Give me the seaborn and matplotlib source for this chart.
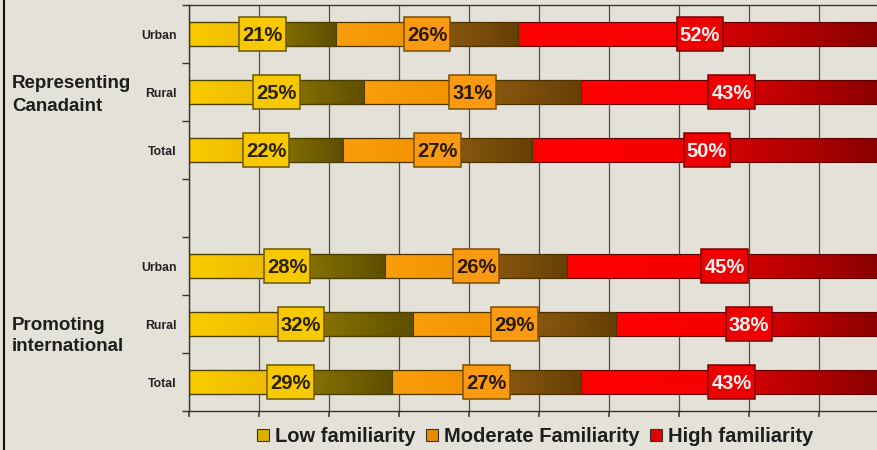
import numpy as np
import pandas as pd
import matplotlib
matplotlib.use("Agg")
import matplotlib.pyplot as plt
from matplotlib.colors import LinearSegmentedColormap
from matplotlib.patches import Patch, Rectangle
from matplotlib.lines import Line2D
from matplotlib.ticker import MultipleLocator
import seaborn as sns

# Data
groups = ["Representing\nCanadaint", "Promoting\ninternational"]
categories = ["Urban", "Rural", "Total"]
series = ["Low familiarity", "Moderate Familiarity", "High familiarity"]
low = [21, 25, 22, 28, 32, 29]
moderate = [26, 31, 27, 26, 29, 27]
high = [52, 43, 50, 45, 38, 43]

row_keys = ["r0", "r1", "r2", "gap", "r3", "r4", "r5"]
bar_rows = [k for k in row_keys if k != "gap"]
tick_labels = categories + [""] + categories

df = pd.DataFrame({"row": bar_rows, "low": low, "moderate": moderate, "high": high})
df["c_low"] = df["low"]
df["c_mod"] = df["low"] + df["moderate"]
df["c_high"] = df["c_mod"] + df["high"]

# Styling
bg = "#E4E1D8"
ramps = {
    "low": ["#FACB00", "#EDB900", "#8E7700", "#5E4F00"],
    "moderate": ["#FA9E0C", "#F29100", "#8E5C10", "#663F06"],
    "high": ["#FF0000", "#F60000", "#D60000", "#880000"],
}
box_fc = {"low": "#F8C800", "moderate": "#F99A12", "high": "#EE0000"}
box_ec = {"low": "#6A5800", "moderate": "#7A5000", "high": "#7A0000"}
txt_c = {"low": "#2A2200", "moderate": "#2A1A00", "high": "#FFF0F0"}
edge_c = {"low": "#4A3E00", "moderate": "#4E3300", "high": "#600000"}
legend_c = {"low": "#D8B000", "moderate": "#E88A00", "high": "#E00000"}

sns.set_theme(style="white")
plt.rcParams["font.family"] = ["Liberation Sans", "DejaVu Sans"]

fig = plt.figure(figsize=(8.77, 4.5), dpi=100, facecolor=bg)
ax = fig.add_axes([189 / 877, 39 / 450, 1 - 189 / 877, 406 / 450])
ax.set_facecolor(bg)

bar_h = 0.41
box_w, box_h = 6.7, 0.59
layers = [("c_high", "high"), ("c_mod", "moderate"), ("c_low", "low")]
for col, key in layers:
    n_before = len(ax.patches)
    sns.barplot(data=df, x=col, y="row", order=row_keys, orient="h",
                color=legend_c[key], saturation=1, width=bar_h, ax=ax, zorder=2)
    for p in ax.patches[n_before:]:
        p.set_facecolor("none")
        p.set_edgecolor(edge_c[key])
        p.set_linewidth(0.8)
        p.set_zorder(3)

# gradient fills + value boxes
grad = np.linspace(0, 1, 256).reshape(1, -1)
starts = {"low": np.zeros(len(df)), "moderate": df["c_low"].values, "high": df["c_mod"].values}
for key in ["low", "moderate", "high"]:
    c = ramps[key]
    cmap = LinearSegmentedColormap.from_list(key, [(0, c[0]), (0.46, c[1]), (0.54, c[2]), (1, c[3])])
    for i, row in enumerate(df["row"]):
        y = row_keys.index(row)
        x0 = starts[key][i]
        v = df[key].iloc[i]
        mid = x0 + v / 2
        ax.imshow(grad, cmap=cmap, extent=[x0, x0 + v, y + bar_h / 2, y - bar_h / 2],
                  aspect="auto", interpolation="bilinear", zorder=2.5)
        ax.add_patch(Rectangle((mid - box_w / 2, y - box_h / 2), box_w, box_h,
                               fc=box_fc[key], ec=box_ec[key], lw=1.1, zorder=4))
        ax.text(mid, y + 0.02, f"{v}%", ha="center", va="center", fontsize=14.5,
                fontweight="bold", color=txt_c[key], zorder=5)

ax.set_xlim(0, (877 - 189) / 7.0)
ax.set_ylim(6.5, -0.5)
ax.xaxis.set_major_locator(MultipleLocator(10))
ax.grid(axis="x", color="#4E4E4E", lw=0.9)
ax.grid(axis="y", visible=False)
ax.set_axisbelow(True)
ax.tick_params(axis="x", which="major", length=4, direction="out", color="#444",
               labelbottom=False, bottom=True)
ax.set_yticks(range(len(row_keys)))
ax.set_yticklabels(tick_labels, fontsize=8.8, fontweight="bold", color="#222")
ax.set_yticks(np.arange(-0.5, len(row_keys), 1), minor=True)
ax.tick_params(axis="y", which="major", length=0, pad=9)
ax.tick_params(axis="y", which="minor", length=5, direction="out", color="#333", left=True)
ax.set_xlabel("")
ax.set_ylabel("")
for s in ["left", "bottom", "top"]:
    ax.spines[s].set_visible(True)
    ax.spines[s].set_color("#333")
    ax.spines[s].set_linewidth(1)
ax.spines["right"].set_visible(False)

# group labels
fig.text(12 / 877, 1 - 95 / 450, groups[0], ha="left", va="center", fontsize=13.5,
         fontweight="bold", color="#1E1E1E", linespacing=1.5)
fig.text(12 / 877, 1 - 336 / 450, groups[1], ha="left", va="center", fontsize=13.5,
         fontweight="bold", color="#1E1E1E", linespacing=1.3)

# legend
handles = [Patch(facecolor=legend_c[k], edgecolor="#333", lw=0.8) for k in ["low", "moderate", "high"]]
fig.legend(handles, series, loc="center", bbox_to_anchor=(0.61, 0.03), ncol=3, frameon=False,
           prop={"size": 14.5, "weight": "bold"}, handlelength=0.6, handleheight=0.6,
           handletextpad=0.3, columnspacing=0.5, labelcolor="#1E1E1E")

fig.add_artist(Line2D([0.004, 0.004], [0, 1], transform=fig.transFigure, color="#111", lw=1.5))

fig.savefig("out.png", dpi=100, facecolor=bg)
